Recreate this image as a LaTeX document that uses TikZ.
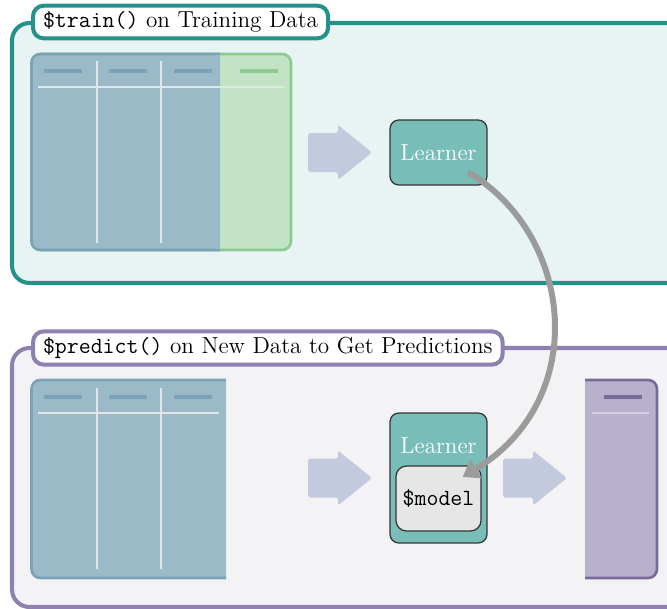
\documentclass[tikz,border=0pt]{standalone}
\usepackage{tikz}
\usetikzlibrary{positioning}
\usetikzlibrary{calc}
\usetikzlibrary{arrows.meta}
\definecolor{trainteal}{RGB}{36,145,138}
\definecolor{trainbg}{RGB}{232,244,244}
\definecolor{predpurple}{RGB}{142,128,176}
\definecolor{predbg}{RGB}{243,243,246}
\definecolor{featfill}{RGB}{155,186,200}
\definecolor{featline}{RGB}{122,163,184}
\definecolor{targfill}{RGB}{195,227,197}
\definecolor{targline}{RGB}{141,204,143}
\definecolor{gridline}{RGB}{226,230,233}
\definecolor{arrowfill}{RGB}{196,202,222}
\definecolor{learnfill}{RGB}{120,189,184}
\definecolor{modelfill}{RGB}{230,230,230}
\definecolor{outfill}{RGB}{184,177,205}
\definecolor{outline}{RGB}{122,106,154}
\definecolor{curvegray}{RGB}{155,155,155}
\tikzset{frame/.style={line width=2.3pt,rounded corners=10},
titlebox/.style={draw,fill=white,line width=2.3pt,rounded corners=6,anchor=west,inner xsep=0.2cm,minimum height=0.64cm},
learner/.style={draw=black!80,fill=learnfill,line width=0.7pt,rounded corners=5,text=white,minimum width=1.94cm},
header/.style={line width=2.2pt},
grid/.style={draw=gridline,line width=0.6pt}}
\begin{document}
\begin{tikzpicture}[x=0.02cm,y=-0.02cm,font=\fontsize{13.2}{16}\selectfont]
\useasboundingbox (0,0) rectangle (667,609);
% frames
\filldraw[frame,draw=trainteal,fill=trainbg] (12,23) rectangle (720,283);
\filldraw[frame,draw=predpurple,fill=predbg] (12,348) rectangle (720,607);
\node[titlebox,draw=trainteal] (trainTitle) at (31,22) {\texttt{\$train()} on Training Data};
\node[titlebox,draw=predpurple] (predTitle) at (31,348) {\texttt{\$predict()} on New Data to Get Predictions};
% training data
\filldraw[draw=targline,fill=targfill,line width=1.5pt,rounded corners=5] (31.5,54) rectangle (291,250);
\filldraw[draw=featline,fill=featfill,line width=1.5pt,rounded corners=5] (220,54) -- (31.5,54) -- (31.5,250) -- (220,250);
\fill[featfill] (215,55) rectangle (220,249);
\draw[grid] (38,87) -- (284,87) (97,61) -- (97,243) (161,61) -- (161,243);
\foreach \hx in {44,109,174} \draw[header,featline] (\hx,71) -- +(38,0);
\draw[header,targline] (240,71) -- +(38,0);
% new data
\filldraw[draw=featline,fill=featfill,line width=1.5pt,rounded corners=5] (226,380) -- (31.5,380) -- (31.5,578) -- (226,578);
\draw[grid] (38,413) -- (219,413) (97,388) -- (97,569) (161,388) -- (161,569);
\foreach \hx in {44,109,174} \draw[header,featline] (\hx,397) -- +(38,0);
% predictions
\filldraw[draw=outline,fill=outfill,line width=1.5pt,rounded corners=5] (585,380) -- (657,380) -- (657,578) -- (585,578);
\draw[grid,draw=outfill!60!white] (592,413) -- (649,413);
\draw[header,outline] (604,397) -- +(38,0);
% block arrows
\foreach \ax/\ay in {308/152.5,308/478,503/478}
  \fill[arrowfill,rounded corners=1pt,shift={(\ax,\ay)}] (0,-19.5) -- (30,-19.5) -- (30,-27.5) -- (64,0) -- (30,27.5) -- (30,19.5) -- (0,19.5) -- cycle;
% learners
\node[learner,minimum height=1.3cm] (learnerT) at (438.5,152.5) {Learner};
\node[learner,minimum height=2.6cm] (learnerB) at (438.5,478) {};
\node[text=white,below=0.38cm of learnerB.north] (learnerBtext) {Learner};
\node[draw=black!80,fill=modelfill,line width=0.7pt,rounded corners=6,minimum width=1.7cm,minimum height=1.3cm] (model) at (438.5,498.5) {\texttt{\$model}};
\draw[curvegray,line width=3.4pt,-{Triangle[length=9pt,width=12pt]}] ([shift={(29.5,19.5)}]learnerT.center) .. controls (575,236) and (590,400) .. ([shift={(-19,-21.5)}]model.east);
\end{tikzpicture}
\end{document}
